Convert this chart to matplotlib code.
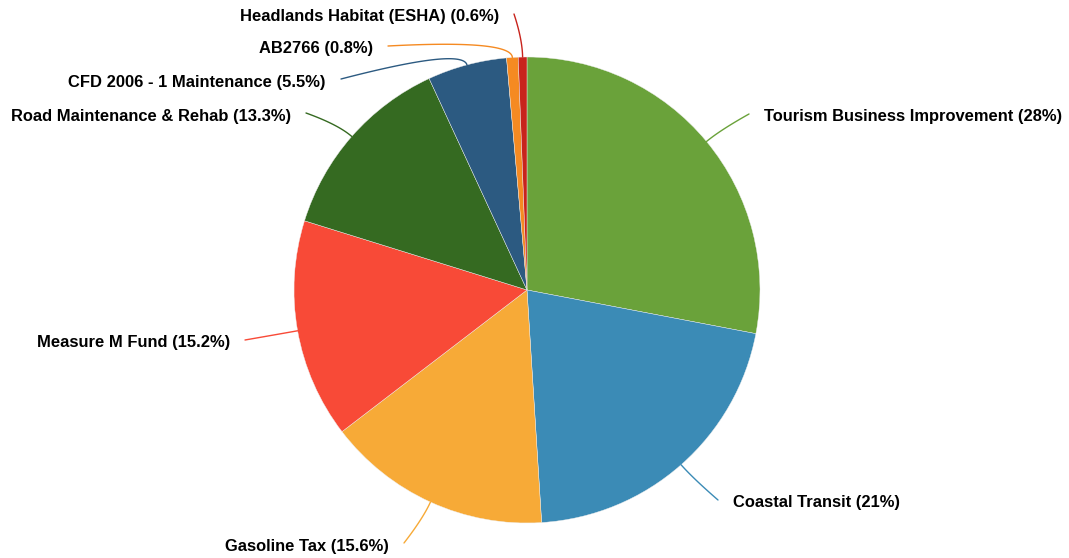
import numpy as np
import matplotlib
matplotlib.use("Agg")
import matplotlib.pyplot as plt

W, H = 1069, 558

categories = ["Tourism Business Improvement", "Coastal Transit", "Gasoline Tax",
              "Measure M Fund", "Road Maintenance & Rehab", "CFD 2006 - 1 Maintenance",
              "AB2766", "Headlands Habitat (ESHA)"]
shares = [28, 21, 15.6, 15.2, 13.3, 5.5, 0.8, 0.6]
share_text = ["28%", "21%", "15.6%", "15.2%", "13.3%", "5.5%", "0.8%", "0.6%"]
colors = ["#6aa23a", "#3b8bb6", "#f7aa37", "#f84a37", "#356a21", "#2c5a81",
          "#f58a22", "#c8231c"]

# label anchor in pixel coords (x, y from top), alignment
label_pos = [(764, 117, "left"), (733, 503, "left"), (389, 546, "right"),
             (230, 343, "right"), (291, 116, "right"), (326, 82, "right"),
             (373, 49, "right"), (499, 17, "right")]

cx, cy, r = 527, 290, 233

fig = plt.figure(figsize=(W / 100, H / 100), dpi=100)
ax = fig.add_axes([0, 0, 1, 1])

wedges, _ = ax.pie(shares, colors=colors, startangle=90, counterclock=False,
                   center=(cx, H - cy), radius=r,
                   wedgeprops=dict(linewidth=0.3, edgecolor="#eeeeee"))
ax.set_xlim(0, W)
ax.set_ylim(0, H)
ax.set_aspect("equal")
ax.set_axis_off()

for w, name, txt, (lx, ly, ha) in zip(wedges, categories, share_text, label_pos):
    mid = np.deg2rad((w.theta1 + w.theta2) / 2)
    p0 = np.array([cx + r * np.cos(mid), H - cy + r * np.sin(mid)])
    p1 = np.array([cx + (r + 18) * np.cos(mid), H - cy + (r + 18) * np.sin(mid)])
    ex = lx - 15 if ha == "left" else lx + 15
    p2 = np.array([ex, H - ly + 3])
    t = np.linspace(0, 1, 40)[:, None]
    curve = (1 - t) ** 2 * p0 + 2 * (1 - t) * t * p1 + t ** 2 * p2
    ax.plot(curve[:, 0], curve[:, 1], color=w.get_facecolor(), lw=1.0,
            solid_capstyle="round")
    ax.text(lx, H - ly, f"{name} ({txt})", ha=ha, va="center",
            fontsize=11.9, fontweight="bold", family=["Liberation Sans", "DejaVu Sans"],
            color="black")

fig.savefig("out.png", dpi=100)
